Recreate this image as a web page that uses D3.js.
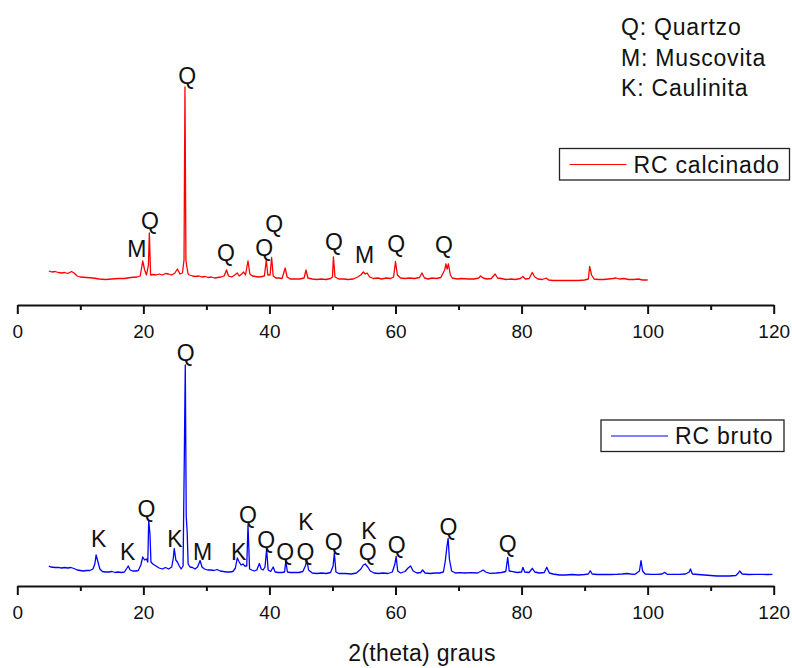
<!DOCTYPE html>
<html>
<head>
<meta charset="utf-8">
<script src="https://cdn.jsdelivr.net/npm/d3@7"></script>
<style>
  body { margin: 0; background: #fff; }
  text { font-family: "Liberation Sans", Arial, sans-serif; fill: #111; }
</style>
</head>
<body>
<div id="viz"></div>
<script>
// 2theta (graus) vs intensity (a.u.)
const calcinado = [
  [5.0,34],[5.5,33],[6.0,33.5],[6.5,32.5],[7.0,32],[7.5,32.5],[8.0,31.5],[8.6,33.5],[9.0,32],[9.5,29],
  [10,28],[11,27.5],[12,27],[13,26],[14,25.5],[15,26],[16,26.5],[17,26.5],[18,27.5],[19,28],
  [19.5,29],[19.9,44],[20.2,35],[20.5,30],[20.8,40],[20.95,72],[21.15,30],[21.5,30.5],[22,30],[22.5,31],
  [23,30],[23.5,31.5],[24,31],[24.5,30],[25,32],[25.4,36],[25.8,31],[26.2,32],[26.45,45],[26.6,218],
  [26.75,45],[26.9,38],[27.1,31],[27.3,30],[27.8,29],[28.3,28.5],[28.8,29],[29.3,28],[29.8,28.5],[30.3,27.5],
  [30.8,28],[31.3,27],[31.8,27.5],[32.3,28],[32.8,29],[33.2,35],[33.5,29],[34,28],[34.5,30],[34.9,32],
  [35.2,29],[35.6,31],[35.9,33],[36.2,30],[36.6,44],[36.9,31],[37.3,29],[37.8,28.5],[38.3,28],[38.8,28.5],
  [39.2,29],[39.5,45],[39.75,30],[40.1,30],[40.35,47.5],[40.6,29],[41,27],[41.5,27],[42,26.5],[42.5,37],
  [42.8,28],[43.3,26],[44,26],[44.8,26],[45.5,27],[45.8,35],[46.1,27],[46.8,26],[47.5,25.5],[48.2,26],
  [49,25.5],[49.7,26.5],[50,28],[50.15,48],[50.4,28],[51,26],[51.8,26],[52.5,25.5],[53.3,26],[54,28],
  [54.5,30],[54.9,33],[55.2,31],[55.5,32],[55.9,28],[56.5,26.5],[57.2,27],[57.8,26],[58.5,27],[59.2,26.5],
  [59.7,28],[60,43.5],[60.3,30],[60.8,27],[61.5,26.5],[62.2,27],[63,26.5],[63.8,27.5],[64.2,32],[64.6,27],
  [65.2,26],[65.8,27],[66.5,26.5],[67.2,27.5],[67.8,35],[68,41],[68.2,36],[68.4,41],[68.7,30],[69,27],
  [69.8,26],[70.5,26.5],[71.5,26],[72.5,26],[73.2,27],[73.5,29],[73.9,27],[74.5,26],[75.2,26.5],[75.8,31],
  [76.2,27],[76.8,26.5],[77.5,25.5],[78.3,26],[79,25.5],[79.8,26.5],[80.2,28.5],[80.6,26],[81.2,26.5],[81.7,32.5],
  [82.1,28],[82.6,26],[83.3,25.5],[83.9,27],[84.3,25],[85,24.5],[86,24.5],[87,24.5],[88,24.5],[89,24.5],
  [90,25],[90.6,26],[90.8,38.5],[91.1,30],[91.5,26],[92.2,25.5],[93,25.5],[93.8,26],[94.5,26.5],[95,27],
  [95.5,26],[96.2,26.5],[97,25.5],[97.8,25.5],[98.5,26],[99.2,25],[100,25]
]

const bruto = [
  [5.0,20],[5.3,19],[6,18.5],[6.5,18.7],[7,18],[7.5,18.5],[8,18],[8.5,18.5],[9,17.5],[9.5,16],
  [10,15.5],[10.5,15],[11,15.5],[11.5,15.5],[12,17],[12.3,22],[12.5,31],[12.8,24],[13.1,17],[13.5,14.5],
  [14,14],[14.5,14],[15,14.5],[15.5,13.5],[16,14],[16.5,13.5],[17,14],[17.3,17],[17.6,20],[17.9,16],
  [18.3,15],[18.8,15],[19.2,15.5],[19.6,21],[19.9,29],[20.2,26],[20.5,27],[20.7,24],[20.85,65],[21.05,52],
  [21.2,24],[21.5,22],[22,20],[22.5,18],[23,17],[23.5,18.5],[24,17],[24.5,19],[24.75,28],[24.9,37.5],
  [25.15,26],[25.4,24],[25.7,20],[26,17],[26.3,20],[26.5,131],[26.65,221],[26.8,70],[26.95,54],[27.1,22],
  [27.4,19],[27.8,18.5],[28.2,17],[28.6,19],[29,25.5],[29.3,19],[29.7,17],[30.2,16],[30.7,16],[31.2,15.5],
  [31.7,16.5],[32.2,15],[32.7,14.5],[33.2,14],[33.7,14],[34.2,14.5],[34.6,18],[34.9,28],[35.2,24],[35.5,21],
  [35.8,22],[36.1,20],[36.4,20],[36.6,61],[36.85,17],[37.2,16],[37.6,15],[38,16],[38.4,22.5],[38.7,17],
  [39,16],[39.3,19],[39.55,36.7],[39.8,16],[40.2,14.5],[40.6,19],[40.9,14],[41.4,13.5],[42,13.5],[42.4,14],
  [42.6,25],[42.85,14],[43.3,13.5],[44,13.5],[44.7,13.5],[45.3,14.5],[45.7,20],[45.95,26],[46.2,16],[46.8,13],
  [47.5,12.5],[48.3,13],[49,12.5],[49.7,13.5],[50.1,20],[50.3,33],[50.55,14],[51,12.5],[52,12.5],[53,12],
  [53.8,13],[54.5,17],[54.9,21],[55.2,22],[55.6,19],[56,15],[56.6,13],[57.3,12.5],[58,13],[58.8,12.5],
  [59.5,14],[59.9,22],[60.1,29.5],[60.35,15],[60.8,13],[61.5,14.5],[62,18],[62.4,20],[62.8,15],[63.4,13],
  [64,13.5],[64.3,16],[64.7,13],[65.5,12.5],[66.3,13],[67,13],[67.6,14],[67.9,25],[68.15,39],[68.35,47.7],
  [68.55,27],[68.9,15],[69.5,13],[70.3,13.3],[71,13],[72,13.3],[73,13],[73.5,14.5],[73.9,16],[74.3,14],
  [75,12.7],[76,13],[76.8,13.5],[77.5,14.5],[77.8,28.7],[78.05,15],[78.6,14.3],[79.3,13.5],[80,14],[80.2,18.7],
  [80.5,14],[81.2,13.5],[81.7,17.7],[82.1,14],[82.8,13],[83.6,13.5],[84,18.7],[84.4,13],[85,12],[86,11],
  [87,11],[88,11.5],[89,11],[90,11.5],[90.6,12],[90.9,15.3],[91.2,12],[92,11.5],[93,11.7],[94,11.5],
  [95,11.7],[96,12],[96.7,12.5],[97.3,12],[98,11.7],[98.7,15],[98.95,25.3],[99.2,15],[99.6,12],[100.5,11.7],
  [101.5,11.7],[102.3,12],[102.7,13.7],[103.1,11.7],[104,11.7],[105,11.7],[106,12],[106.6,14],[106.8,17],[107.1,12],
  [108,11.5],[109,11],[110,10.5],[111,10],[112,10],[113,10],[114,10.5],[114.4,13],[114.6,15],[115,12],
  [116,11.5],[117,11.7],[118,11.7],[119,11.5],[119.8,11.7]
]

// phase letters: [letter, 2theta, intensity of the label baseline]
const calcinadoPeaks = [
  ["M",18.95,48],["Q",21.05,76],["Q",26.95,221],["Q",33.1,44],["Q",39.15,49],
  ["Q",40.75,73],["Q",50.25,55],["M",55.1,42],["Q",60.1,53],["Q",67.7,52]
]
const brutoPeaks = [
  ["K",12.9,39],["K",17.5,26],["Q",20.5,69],["K",25.0,39],["Q",26.7,225],["M",29.4,26],
  ["K",35.1,26],["Q",36.6,63],["Q",39.5,38],["Q",42.5,26],["Q",45.7,26],["K",45.8,56],
  ["Q",50.2,36],["K",55.8,47],["Q",55.6,26],["Q",60.2,33],["Q",68.4,51],["Q",77.8,34]
]

const majorTicks = [0, 20, 40, 60, 80, 100, 120]
const minorTicks = [10, 30, 50, 70, 90, 110]
const phases = ["Q: Quartzo", "M: Muscovita", "K: Caulinita"]

const width = 792
const height = 668

const svg = d3.select("#viz").append("svg")
  .attr("width", width)
  .attr("height", height)

const x = d3.scaleLinear().domain([0, 120]).range([17.3, 773.7])

// one panel per sample, stacked
const panels = [
  { data: calcinado, peaks: calcinadoPeaks, color: "#ff0000", axisY: 305, name: "RC calcinado",
    legend: { x: 559.5, y: 148.5, w: 230, h: 31.5 } },
  { data: bruto, peaks: brutoPeaks, color: "#0000ff", axisY: 586, name: "RC bruto",
    legend: { x: 601, y: 420, w: 183, h: 31.5 } }
]

panels.forEach(p => {
  const y = d3.scaleLinear().domain([0, 240]).range([p.axisY, p.axisY - 240])
  const g = svg.append("g")

  const line = d3.line().x(d => x(d[0])).y(d => y(d[1]))
  g.append("path")
    .datum(p.data)
    .attr("d", line)
    .attr("fill", "none")
    .attr("stroke", p.color)
    .attr("stroke-width", 1.3)
    .attr("stroke-linejoin", "round")

  g.selectAll(".peak")
    .data(p.peaks)
    .enter()
    .append("text")
      .attr("x", d => x(d[1]))
      .attr("y", d => y(d[2]))
      .attr("text-anchor", "middle")
      .attr("font-size", 23)
      .text(d => d[0])

  // x axis: majors with labels, minors without
  const major = d3.axisBottom(x).tickValues(majorTicks).tickSize(9).tickSizeOuter(0).tickPadding(10.5)
  const minor = d3.axisBottom(x).tickValues(minorTicks).tickSize(5).tickFormat("")
  const ax = g.append("g").attr("transform", `translate(0,${p.axisY})`).call(major)
  const axMin = g.append("g").attr("transform", `translate(0,${p.axisY})`).call(minor)
  axMin.select(".domain").remove()
  ;[ax, axMin].forEach(a => {
    a.selectAll("line").attr("stroke", "#111").attr("stroke-width", 2)
    a.select(".domain").attr("stroke", "#111").attr("stroke-width", 2)
  })
  ax.selectAll("text")
    .attr("font-size", 19)
    .attr("font-family", "Liberation Sans, Arial, sans-serif")
    .attr("fill", "#111")

  // legend box
  const lg = g.append("g").attr("transform", `translate(${p.legend.x},${p.legend.y})`)
  lg.append("rect")
    .attr("width", p.legend.w)
    .attr("height", p.legend.h)
    .attr("fill", "#fff")
    .attr("stroke", "#222")
    .attr("stroke-width", 1.3)
  lg.append("line")
    .attr("x1", 10).attr("x2", 67)
    .attr("y1", 16).attr("y2", 16)
    .attr("stroke", p.color)
    .attr("stroke-width", 1.2)
  lg.append("text")
    .attr("x", 74)
    .attr("y", 24)
    .attr("font-size", 23)
    .attr("letter-spacing", 0.8)
    .text(p.name)
})

// phase key
svg.selectAll(".phase")
  .data(phases)
  .enter()
  .append("text")
    .attr("x", 621)
    .attr("y", (d, i) => 35 + i * 30.5)
    .attr("font-size", 23)
    .attr("letter-spacing", 0.8)
    .text(d => d)

svg.append("text")
  .attr("x", 422)
  .attr("y", 661)
  .attr("text-anchor", "middle")
  .attr("font-size", 23)
  .attr("letter-spacing", 0.3)
  .text("2(theta) graus")
</script>
</body>
</html>
